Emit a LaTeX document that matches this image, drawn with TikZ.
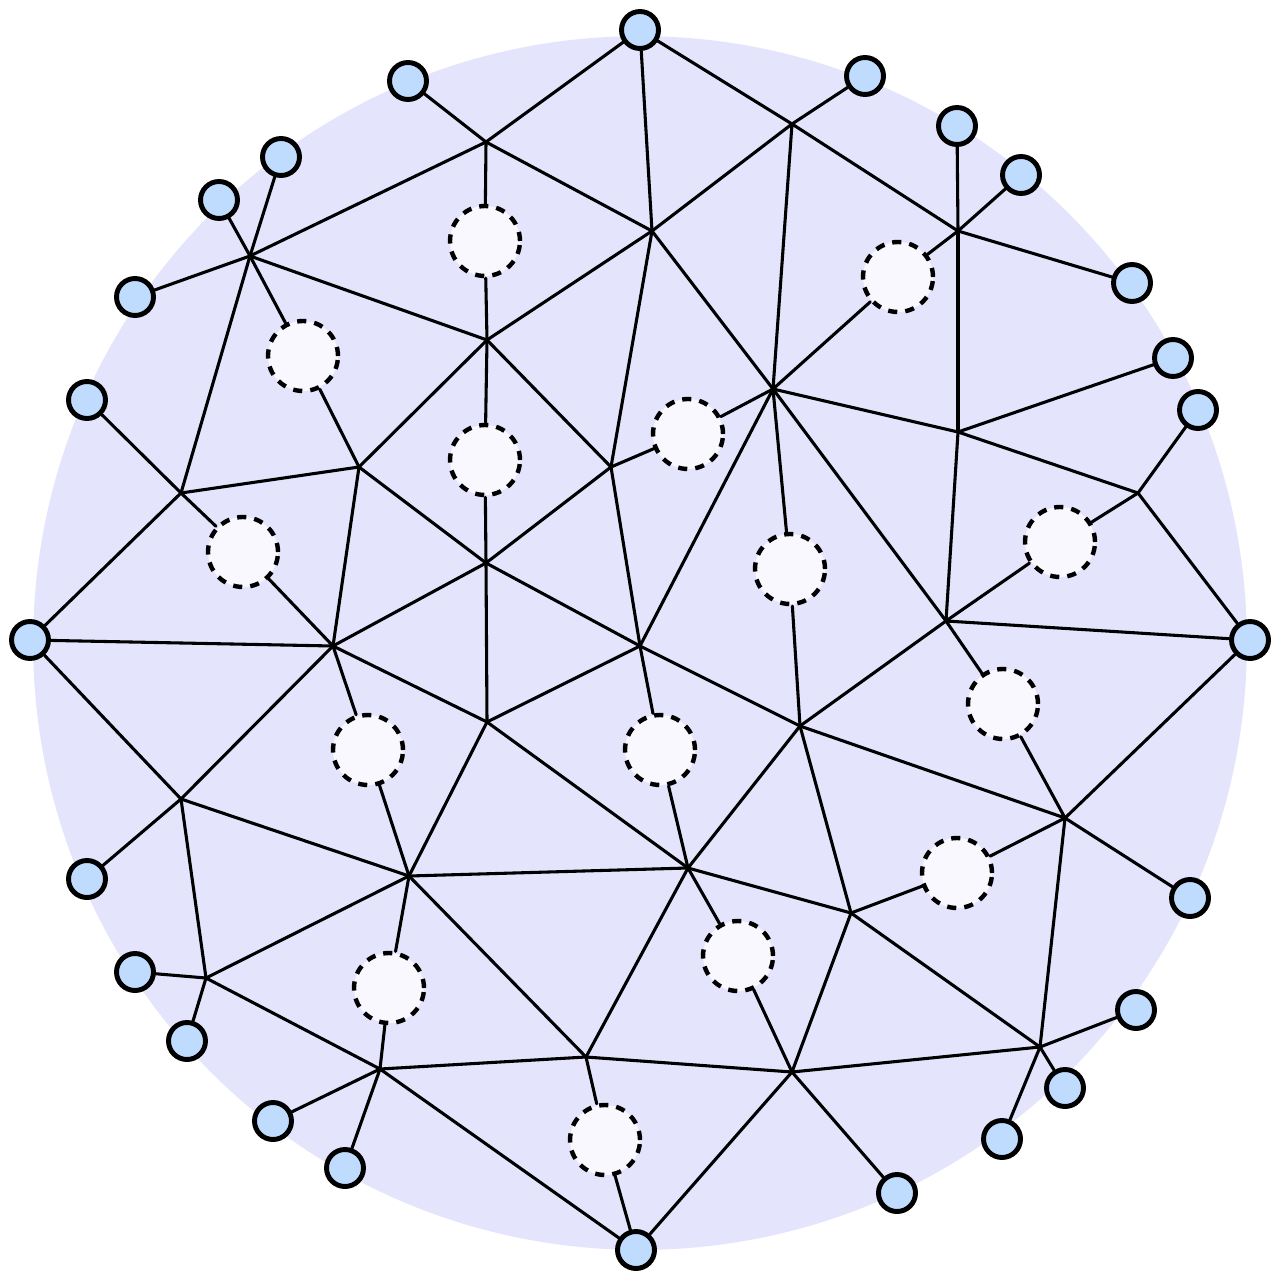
\documentclass[tikz,border=0pt]{standalone}
\definecolor{bgc}{HTML}{E4E4FC}
\definecolor{bnode}{HTML}{BFDBFE}
\definecolor{dnode}{HTML}{F8F8FE}
\begin{document}
\begin{tikzpicture}[x=0.02cm,y=-0.02cm,
 bnd/.style={circle,draw=black,line width=2.8pt,fill=bnode,minimum size=0.74cm,inner sep=0pt},
 dsh/.style={circle,draw=black,line width=2.5pt,dash pattern=on 5.2pt off 4.6pt,fill=dnode,minimum size=1.4cm,inner sep=0pt},
 pt/.style={coordinate},
 lnk/.style={line width=1.75pt,line cap=round}]
\useasboundingbox (0,0) rectangle (1280,1280);
\fill[bgc] (640,643) circle[radius=12.14cm];
% boundary nodes
\node[bnd] (B1) at (640,30) {};
\node[bnd] (B2) at (865,76) {};
\node[bnd] (B3) at (957,126) {};
\node[bnd] (B4) at (1021,175) {};
\node[bnd] (B5) at (1132,283) {};
\node[bnd] (B6) at (1173,358) {};
\node[bnd] (B7) at (1198,410) {};
\node[bnd] (B8) at (1250,640) {};
\node[bnd] (B9) at (1190,898) {};
\node[bnd] (B10) at (1136,1010) {};
\node[bnd] (B11) at (1065,1088) {};
\node[bnd] (B12) at (1002,1139) {};
\node[bnd] (B13) at (897,1193) {};
\node[bnd] (B14) at (636,1250) {};
\node[bnd] (B15) at (345,1168) {};
\node[bnd] (B16) at (273,1121) {};
\node[bnd] (B17) at (187,1041) {};
\node[bnd] (B18) at (135,972) {};
\node[bnd] (B19) at (87,879) {};
\node[bnd] (B20) at (30,640) {};
\node[bnd] (B21) at (87,400) {};
\node[bnd] (B22) at (135,297) {};
\node[bnd] (B23) at (219,200) {};
\node[bnd] (B24) at (281,157) {};
\node[bnd] (B25) at (408,81) {};
% interior vertices
\coordinate (V1) at (486,142);
\coordinate (V2) at (792,124);
\coordinate (V3) at (652,231);
\coordinate (V4) at (958,231);
\coordinate (V5) at (250,256);
\coordinate (V6) at (487,340);
\coordinate (V7) at (773,389);
\coordinate (V8) at (958,432);
\coordinate (V9) at (181,493);
\coordinate (V10) at (359,467);
\coordinate (V11) at (611,467);
\coordinate (V12) at (1138,493);
\coordinate (V13) at (486,563);
\coordinate (V14) at (333,646);
\coordinate (V15) at (640,646);
\coordinate (V16) at (946,621);
\coordinate (V17) at (487,722);
\coordinate (V18) at (800,726);
\coordinate (V19) at (181,799);
\coordinate (V20) at (1065,818);
\coordinate (V21) at (409,876);
\coordinate (V22) at (688,868);
\coordinate (V23) at (851,913);
\coordinate (V24) at (206,978);
\coordinate (V25) at (586,1057);
\coordinate (V26) at (380,1069);
\coordinate (V27) at (792,1072);
\coordinate (V28) at (1040,1047);
% dashed nodes
\node[dsh] (D1) at (485,241) {};
\node[dsh] (D2) at (898,277) {};
\node[dsh] (D3) at (303,356) {};
\node[dsh] (D4) at (485,460) {};
\node[dsh] (D5) at (688,434) {};
\node[dsh] (D6) at (243,552) {};
\node[dsh] (D7) at (790,569) {};
\node[dsh] (D8) at (1060,542) {};
\node[dsh] (D9) at (1003,704) {};
\node[dsh] (D10) at (368,750) {};
\node[dsh] (D11) at (660,750) {};
\node[dsh] (D12) at (957,873) {};
\node[dsh] (D13) at (738,956) {};
\node[dsh] (D14) at (389,988) {};
\node[dsh] (D15) at (605,1140) {};
% edges
\foreach \a/\b in {B1/V1,B1/V2,B1/V3,B25/V1,V1/D1,V1/V5,V1/V3,
 V2/B2,V2/V3,V2/V4,V2/V7,V3/V6,V3/V7,V3/V11,
 B3/V4,B4/V4,V4/D2,V4/B5,V4/V8,D2/V7,
 V5/B22,V5/B23,V5/B24,V5/D3,V5/V6,V5/V9,D3/V10,D1/V6,
 V6/D4,V6/V10,V6/V11,V7/D5,V7/D7,V7/V8,V7/V16,V7/V15,D5/V11,
 V8/B6,V8/V12,V8/V16,B7/V12,V12/D8,V12/B8,
 D8/V16,V16/B8,V16/D9,V16/V18,D9/V20,
 V20/B8,V20/B9,V20/V18,V20/D12,V20/V28,D12/V23,
 B21/V9,V9/D6,V9/V10,V9/B20,D6/V14,V10/V14,V10/V13,D4/V13,
 V11/V13,V11/V15,V13/V14,V13/V17,V13/V15,
 V15/V17,V15/D11,V15/V18,D7/V18,
 V14/B20,V14/V17,V14/V19,V14/D10,B20/V19,
 V19/B19,V19/V21,V19/V24,D10/V21,V17/V21,V17/V22,D11/V22,
 V18/V22,V18/V23,V21/V22,V21/V24,V21/D14,V21/V25,
 V22/V23,V22/D13,V22/V25,D13/V27,V23/V27,V23/V28,
 V24/B18,V24/B17,V24/V26,D14/V26,
 V26/B16,V26/B15,V26/V25,V26/B14,V25/D15,V25/V27,D15/B14,
 B14/V27,V27/B13,V27/V28,V28/B10,V28/B12,V28/B11}
 \draw[lnk] (\a) -- (\b);
\end{tikzpicture}
\end{document}
